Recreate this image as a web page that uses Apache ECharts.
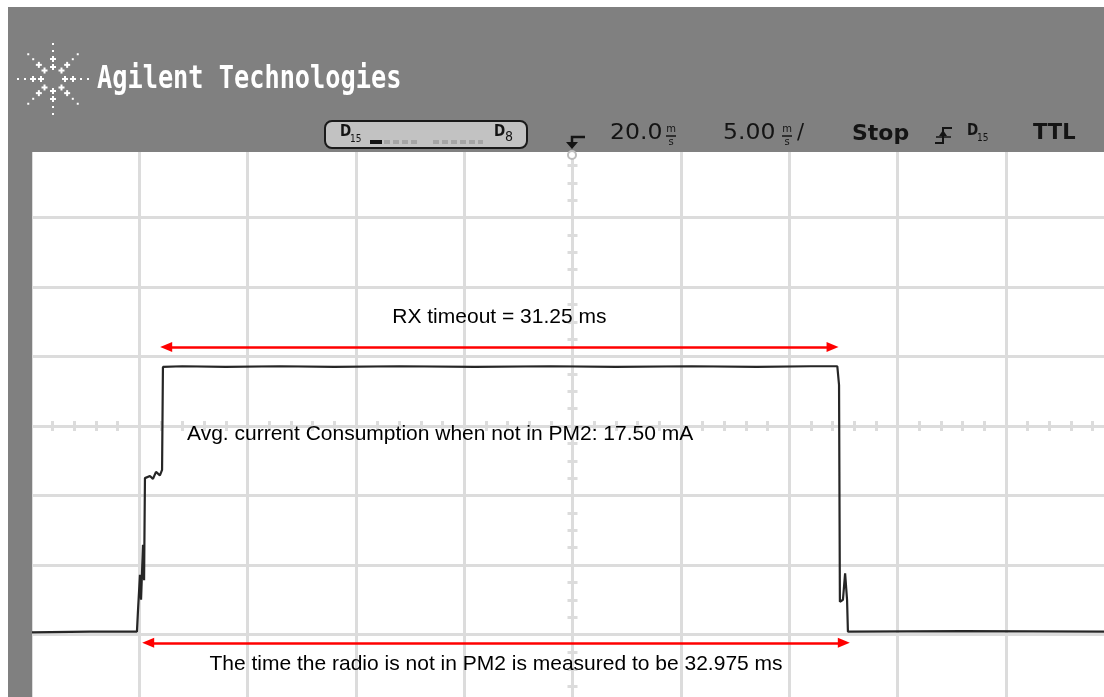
<!DOCTYPE html>
<html>
<head>
<meta charset="utf-8">
<title>RX timeout</title>
<script src="https://cdn.jsdelivr.net/npm/echarts@6/dist/echarts.min.js"></script>
<style>
  html, body { margin: 0; padding: 0; background: #fff; }
  #scope { width: 1104px; height: 697px; }
</style>
</head>
<body>
<div id="scope"></div>
<script>
// trace: time in ms (5 ms/div, 20 ms at centre), level in divisions from centre
var traceTime = [-5, -2.27, -0.10, -0.05, 0.04, 0.09, 0.18, 0.23, 0.27, 0.50, 0.64, 0.78, 0.96, 1.06, 1.10,
  2.0, 4.0, 6.5, 9.0, 12.0, 15.5, 19.0, 22.0, 25.5, 28.5, 31.0, 32.22,
  32.25, 32.30, 32.34, 32.48, 32.58, 32.67, 32.71, 32.85, 38.0, 45];
var traceLevel = [-2.97, -2.96, -2.96, -2.65, -2.14, -2.50, -1.71, -2.22, -0.75, -0.72, -0.76, -0.66, -0.71, -0.63, 0.85,
  0.86, 0.85, 0.86, 0.85, 0.86, 0.85, 0.86, 0.85, 0.86, 0.85, 0.86, 0.86,
  0.86, 0.59, -2.53, -2.50, -2.12, -2.50, -2.96, -2.96, -2.95, -2.96];

// red measurement arrows (ms, level)
var rxArrowTime = [1.25, 32.0];
var rxArrowLevel = 1.137;
var pm2ArrowTime = [0.42, 32.52];
var pm2ArrowLevel = -3.12;

var rxLabel = 'RX timeout = 31.25 ms';
var pm2Label = 'The time the radio is not in PM2 is measured to be 32.975 ms';
var avgLabel = 'Avg. current Consumption when not in PM2: 17.50 mA';

var trace = traceTime.map(function (t, i) { return [t, traceLevel[i]]; });

var gridColor = '#dcdcdc';
var headGray = '#808080';
var ink = '#141414';
var gridRect = { left: 30.75, top: 148, width: 1083.5, height: 556, outerBoundsMode: 'none', containLabel: false };

// reticle axes: centre lines with small marks on both sides
function reticleAxis(pos, split, minor) {
  return {
    type: 'value', gridIndex: 1, position: pos,
    min: pos === 'top' || pos === 'bottom' ? -5 : -4,
    max: pos === 'top' || pos === 'bottom' ? 5 : 4,
    interval: 1,
    axisLine: { show: true, onZero: true, lineStyle: { color: gridColor, width: 3 } },
    axisTick: { show: false },
    axisLabel: { show: false },
    splitLine: { show: split, lineStyle: { color: gridColor, width: 3 } },
    minorTick: { show: true, splitNumber: minor, length: 5, lineStyle: { color: gridColor, width: 3 } }
  };
}

// header: logo + status line
var head = [];
head.push({ type: 'rect', z: 100, shape: { x: 8, y: 7, width: 1096, height: 145 }, style: { fill: headGray } });
head.push({ type: 'rect', z: 100, shape: { x: 8, y: 152, width: 24, height: 545 }, style: { fill: headGray } });

var cx = 53, cy = 79;
for (var k = 0; k < 8; k++) {
  var a = k * Math.PI / 4;
  [12, 20].forEach(function (r) {
    var px = cx + r * Math.cos(a), py = cy + r * Math.sin(a);
    head.push({ type: 'rect', z: 101, shape: { x: px - 3, y: py - 1, width: 6, height: 2 }, style: { fill: '#fff' } });
    head.push({ type: 'rect', z: 101, shape: { x: px - 1, y: py - 3, width: 2, height: 6 }, style: { fill: '#fff' } });
  });
  [28, 35].forEach(function (r) {
    var px = cx + r * Math.cos(a), py = cy + r * Math.sin(a);
    head.push({ type: 'rect', z: 101, shape: { x: px - 1, y: py - 1, width: 2, height: 2 }, style: { fill: '#fff' } });
  });
}
head.push({ type: 'text', z: 101, x: 97, y: 80, scaleX: 0.79,
  style: { text: 'Agilent Technologies', fill: '#fff', font: 'bold 32px "DejaVu Sans Mono"', textVerticalAlign: 'middle' } });

// channel box
head.push({ type: 'rect', z: 101, shape: { x: 325, y: 121, width: 202, height: 27, r: 7 },
  style: { fill: '#c2c2c2', stroke: '#1a1a1a', lineWidth: 2 } });
head.push({ type: 'text', z: 102, x: 340, y: 132, style: { text: 'D', fill: ink, font: 'bold 15px "DejaVu Sans Condensed"', textVerticalAlign: 'middle' } });
head.push({ type: 'text', z: 102, x: 350, y: 139, style: { text: '15', fill: ink, font: '10px "DejaVu Sans Condensed"', textVerticalAlign: 'middle' } });
head.push({ type: 'rect', z: 102, shape: { x: 370, y: 140, width: 12, height: 4 }, style: { fill: ink } });
head.push({ type: 'line', z: 102, shape: { x1: 384, y1: 142, x2: 420, y2: 142 }, style: { stroke: '#a4a4a4', lineWidth: 4, lineDash: [6, 3] } });
head.push({ type: 'line', z: 102, shape: { x1: 433, y1: 142, x2: 483, y2: 142 }, style: { stroke: '#a4a4a4', lineWidth: 4, lineDash: [6, 3] } });
head.push({ type: 'text', z: 102, x: 494, y: 132, style: { text: 'D', fill: ink, font: 'bold 15px "DejaVu Sans Condensed"', textVerticalAlign: 'middle' } });
head.push({ type: 'text', z: 102, x: 505, y: 137, style: { text: '8', fill: ink, font: '14px "DejaVu Sans Condensed"', textVerticalAlign: 'middle' } });

// trigger position marker
head.push({ type: 'polyline', z: 102, shape: { points: [[585, 137], [572, 137], [572, 144]] }, style: { stroke: ink, lineWidth: 2.5, fill: null } });
head.push({ type: 'polygon', z: 102, shape: { points: [[566, 142], [578, 142], [572, 149]] }, style: { fill: ink } });
head.push({ type: 'circle', z: 102, shape: { cx: 572, cy: 155, r: 4 }, style: { fill: '#fff', stroke: '#bcbcbc', lineWidth: 2 } });

function stackedUnit(x) {
  head.push({ type: 'text', z: 102, x: x, y: 129, style: { text: 'm', fill: ink, font: '10px "DejaVu Sans"', textAlign: 'center', textVerticalAlign: 'middle' } });
  head.push({ type: 'line', z: 102, shape: { x1: x - 5, y1: 136, x2: x + 5, y2: 136 }, style: { stroke: ink, lineWidth: 1.5 } });
  head.push({ type: 'text', z: 102, x: x, y: 142, style: { text: 's', fill: ink, font: '10px "DejaVu Sans"', textAlign: 'center', textVerticalAlign: 'middle' } });
}
head.push({ type: 'text', z: 102, x: 610, y: 134, scaleX: 1.12, style: { text: '20.0', fill: ink, font: '21px "DejaVu Sans"', textVerticalAlign: 'middle' } });
stackedUnit(671);
head.push({ type: 'text', z: 102, x: 723, y: 134, scaleX: 1.12, style: { text: '5.00', fill: ink, font: '21px "DejaVu Sans"', textVerticalAlign: 'middle' } });
stackedUnit(787);
head.push({ type: 'text', z: 102, x: 797, y: 134, style: { text: '/', fill: ink, font: '21px "DejaVu Sans"', textVerticalAlign: 'middle' } });
head.push({ type: 'text', z: 102, x: 852, y: 134, style: { text: 'Stop', fill: ink, font: 'bold 22px "DejaVu Sans"', textVerticalAlign: 'middle' } });

// edge trigger symbol + source
head.push({ type: 'polyline', z: 102, shape: { points: [[935, 143], [943, 143], [943, 128], [952, 128]] }, style: { stroke: ink, lineWidth: 2, fill: null } });
head.push({ type: 'polygon', z: 102, shape: { points: [[939, 136], [947, 136], [943, 130]] }, style: { fill: ink } });
head.push({ type: 'line', z: 102, shape: { x1: 936, y1: 137, x2: 951, y2: 137 }, style: { stroke: ink, lineWidth: 1.5 } });
head.push({ type: 'text', z: 102, x: 967, y: 131, style: { text: 'D', fill: ink, font: 'bold 15px "DejaVu Sans Condensed"', textVerticalAlign: 'middle' } });
head.push({ type: 'text', z: 102, x: 977, y: 138, style: { text: '15', fill: ink, font: '10px "DejaVu Sans Condensed"', textVerticalAlign: 'middle' } });
head.push({ type: 'text', z: 102, x: 1033, y: 134, style: { text: 'TTL', fill: ink, font: 'bold 21px "DejaVu Sans"', textVerticalAlign: 'middle' } });

// annotation inside the plot
head.push({ type: 'text', z: 20, x: 187, y: 434,
  style: { text: avgLabel, fill: '#000', font: '21px "Liberation Sans"', textVerticalAlign: 'middle' } });

var chart = echarts.init(document.getElementById('scope'));
var option = {
  animation: false,
  backgroundColor: '#ffffff',
  grid: [Object.assign({}, gridRect), Object.assign({}, gridRect)],
  xAxis: [
    { type: 'value', gridIndex: 0, min: -5, max: 45, interval: 5, show: false },
    reticleAxis('bottom', true, 5),
    reticleAxis('top', false, 5)
  ],
  yAxis: [
    { type: 'value', gridIndex: 0, min: -4, max: 4, interval: 1, show: false },
    reticleAxis('left', true, 4),
    reticleAxis('right', false, 4)
  ],
  graphic: { elements: head },
  series: [
    {
      type: 'line',
      xAxisIndex: 0,
      yAxisIndex: 0,
      data: trace,
      symbol: 'none',
      z: 5,
      lineStyle: { color: '#262626', width: 2.2 },
      markLine: {
        silent: true,
        animation: false,
        symbol: ['triangle', 'triangle'],
        symbolSize: [10, 12],
        lineStyle: { color: '#ff0000', width: 2.5, type: 'solid' },
        label: { show: true, color: '#000', fontFamily: 'Liberation Sans', fontSize: 21 },
        data: [
          [
            { coord: [rxArrowTime[0], rxArrowLevel], label: { formatter: rxLabel, position: 'insideMiddleTop', distance: 19 } },
            { coord: [rxArrowTime[1], rxArrowLevel] }
          ],
          [
            { coord: [pm2ArrowTime[0], pm2ArrowLevel], label: { formatter: pm2Label, position: 'insideMiddleBottom', distance: 11 } },
            { coord: [pm2ArrowTime[1], pm2ArrowLevel] }
          ]
        ]
      }
    }
  ]
};
option && chart.setOption(option);
</script>
</body>
</html>
